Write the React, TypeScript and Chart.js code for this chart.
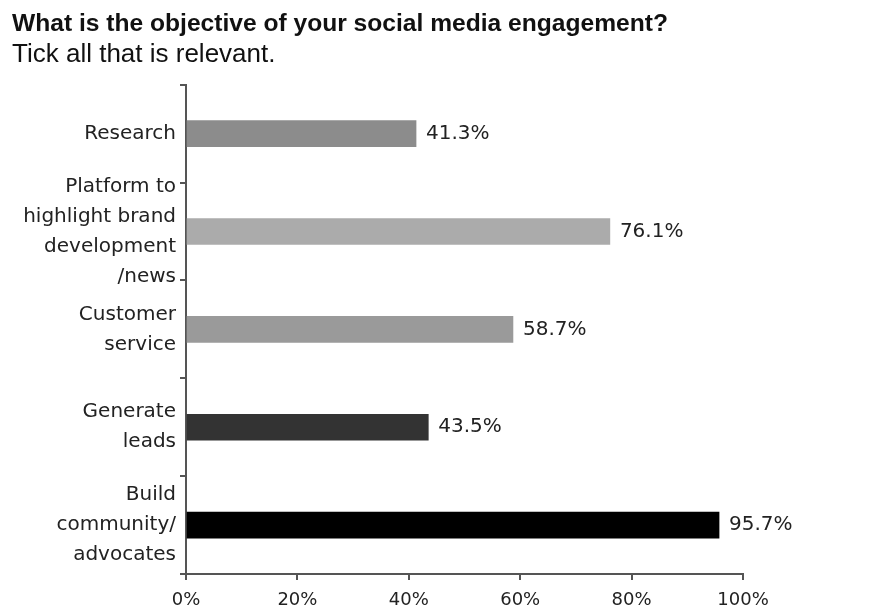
import React, { useEffect, useRef } from "react";
import { Chart, registerables } from "chart.js";

Chart.register(...registerables);

const titleText = "What is the objective of your social media engagement?";
const subtitleText = "Tick all that is relevant.";
const categories: string[][] = [
  ["Research"],
  ["Platform to", "highlight brand", "development", "/news"],
  ["Customer", "service"],
  ["Generate", "leads"],
  ["Build", "community/", "advocates"],
];
const values = [41.3, 76.1, 58.7, 43.5, 95.7];
const barColors = ["#8c8c8c", "#ababab", "#9a9a9a", "#333333", "#000000"];
const xTickValues = [0, 20, 40, 60, 80, 100];

const FONT = "'DejaVu Sans', Verdana, sans-serif";

const valueLabels = {
  id: "valueLabels",
  afterDatasetsDraw(chart: any) {
    const ctx = chart.ctx;
    const meta = chart.getDatasetMeta(0);
    ctx.save();
    ctx.font = `20px ${FONT}`;
    ctx.fillStyle = "#222";
    ctx.textAlign = "left";
    ctx.textBaseline = "middle";
    meta.data.forEach((el: any, i: number) => {
      ctx.fillText(`${values[i].toFixed(1)}%`, el.x + 10, el.y);
    });
    ctx.restore();
  },
};

export default function App() {
  const ref = useRef<HTMLCanvasElement | null>(null);
  useEffect(() => {
    document.body.style.margin = "0";
    const chart = new Chart(ref.current as HTMLCanvasElement, {
      type: "bar",
      data: {
        labels: categories,
        datasets: [
          {
            data: values,
            backgroundColor: barColors,
            barThickness: 26,
          },
        ],
      },
      options: {
        indexAxis: "y",
        animation: false,
        responsive: false,
        layout: { padding: { left: 12, right: 128, top: 0, bottom: 0 } },
        plugins: {
          legend: { display: false },
          tooltip: { enabled: false },
          title: {
            display: true,
            text: titleText,
            align: "start",
            color: "#111",
            font: { family: "'Liberation Sans', Arial, sans-serif", size: 24.6, weight: "bold", lineHeight: 1.2 },
            padding: { top: 9, bottom: 0 },
          },
          subtitle: {
            display: true,
            text: subtitleText,
            align: "start",
            color: "#111",
            font: { family: "'Liberation Sans', Arial, sans-serif", size: 26, weight: "normal", lineHeight: 1.2 },
            padding: { top: 1, bottom: 14 },
          },
        },
        scales: {
          x: {
            min: 0,
            max: 100,
            afterBuildTicks(scale: any) {
              scale.ticks = xTickValues.map((v) => ({ value: v }));
            },
            afterFit(scale: any) {
              scale.height = 36;
            },
            ticks: {
              color: "#222",
              font: { family: FONT, size: 18 },
              padding: 10,
              callback: (v: any) => `${v}%`,
            },
            grid: {
              drawOnChartArea: false,
              drawTicks: true,
              tickLength: 6,
              color: "#555",
              lineWidth: 2,
            },
            border: { display: true, color: "#555", width: 2 },
          },
          y: {
            afterFit(scale: any) {
              scale.width = 174;
            },
            ticks: {
              autoSkip: false,
              color: "#222",
              font: { family: FONT, size: 20, lineHeight: 1.5 },
              padding: 4,
            },
            grid: {
              offset: true,
              drawOnChartArea: false,
              drawTicks: true,
              tickLength: 6,
              color: "#555",
              lineWidth: 2,
            },
            border: { display: true, color: "#555", width: 2 },
          },
        },
      },
      plugins: [valueLabels],
    });
    return () => chart.destroy();
  }, []);
  return (
    <div style={{ width: 871, height: 610 }}>
      <canvas ref={ref} width={871} height={610} style={{ display: "block" }} />
    </div>
  );
}
